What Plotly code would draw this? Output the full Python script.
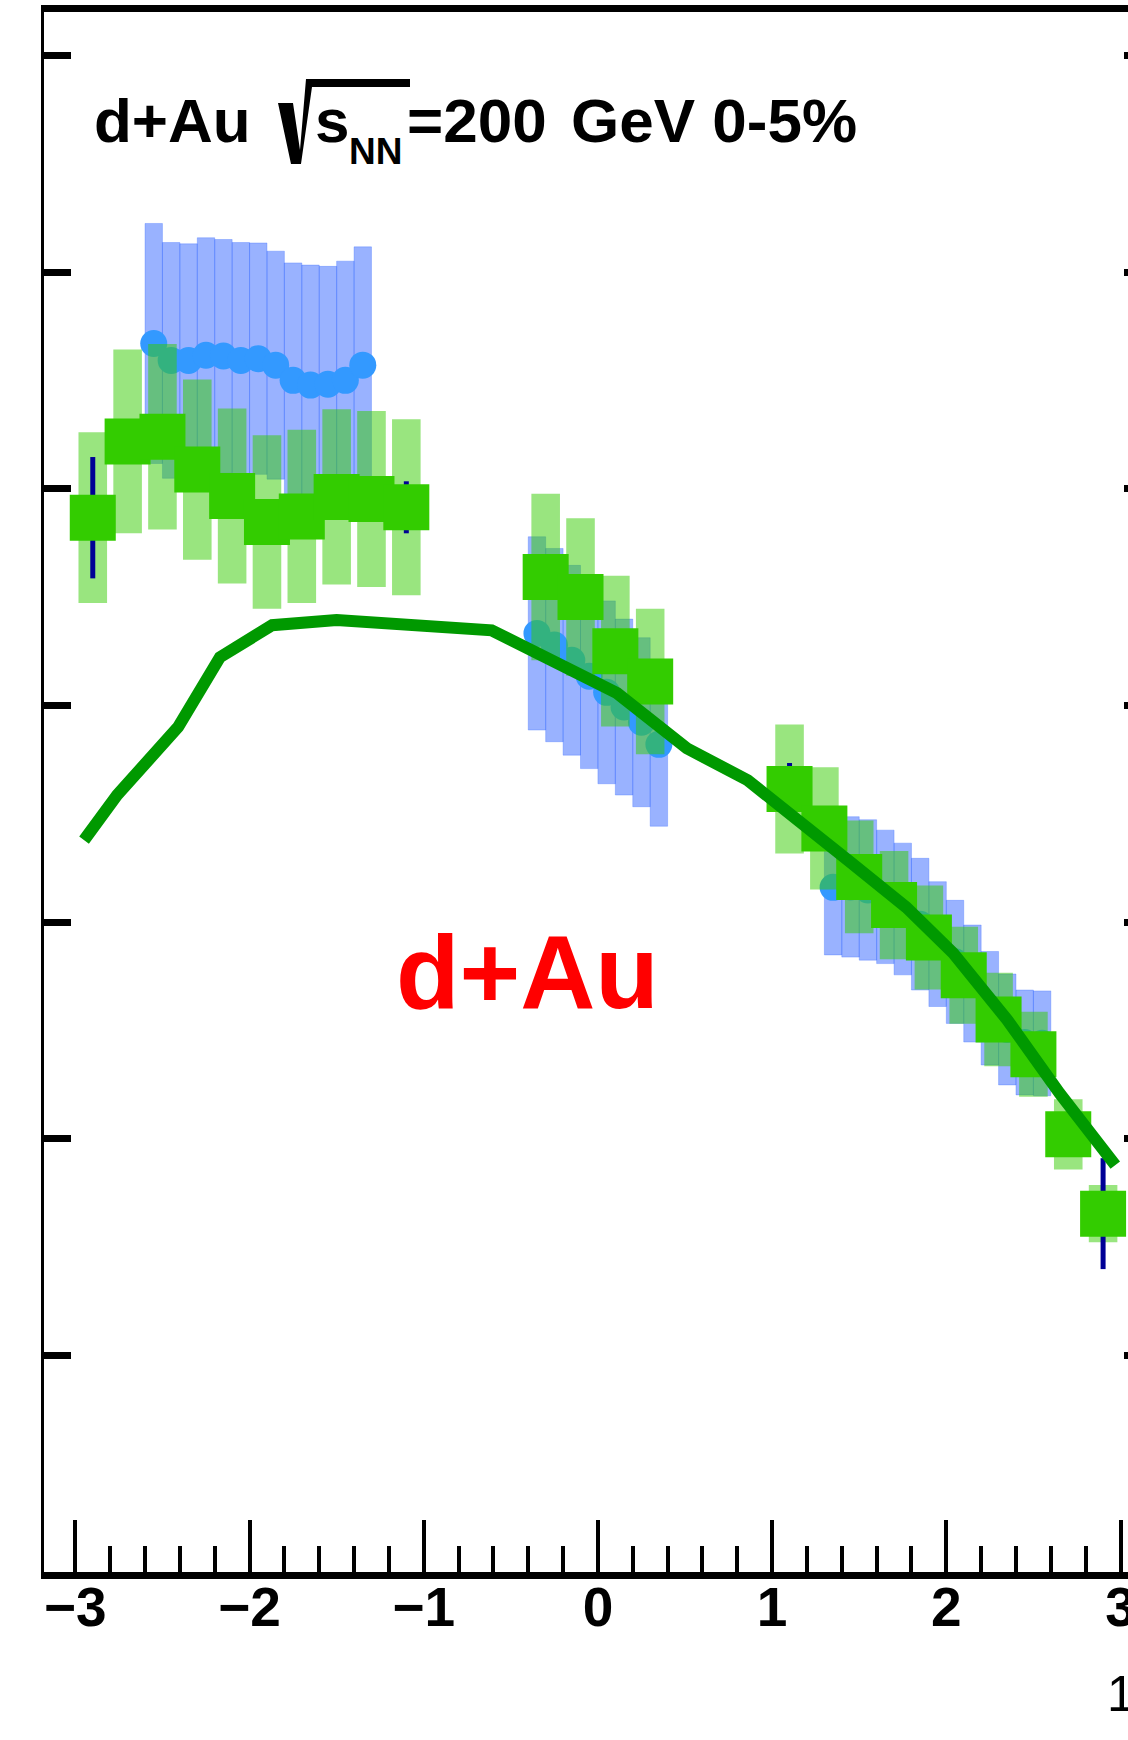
import plotly.graph_objects as go

# ---------------- data ----------------
# green solid squares (with stat + sys uncertainties)
eta_green = [-2.9, -2.7, -2.5, -2.3, -2.1, -1.9, -1.7, -1.5, -1.3, -1.1,
             -0.3, -0.1, 0.1, 0.3,
             1.1, 1.3, 1.5, 1.7, 1.9, 2.1, 2.3, 2.5, 2.7, 2.9]
val_green = [24.33, 26.09, 26.2, 25.44, 24.83, 24.23, 24.36, 24.81, 24.76, 24.57,
             22.96, 22.5, 21.25, 20.55,
             18.07, 17.16, 16.04, 15.39, 14.64, 13.77, 12.75, 11.95, 10.1, 8.27]
stat_green = [1.4, 0.4, 0.4, 0.4, 0.4, 0.4, 0.4, 0.4, 0.4, 0.6,
              0.4, 0.4, 0.4, 0.4,
              0.6, 0.4, 0.4, 0.4, 0.4, 0.4, 0.4, 0.4, 0.4, 1.28]
sys_green = [1.97, 2.12, 2.14, 2.08, 2.02, 2.0, 2.0, 2.02, 2.03, 2.03,
             1.92, 1.82, 1.74, 1.68,
             1.49, 1.41, 1.3, 1.25, 1.2, 1.12, 1.08, 0.98, 0.81, 0.66]

# blue circles (with sys uncertainties)
eta_blue = [-2.55, -2.45, -2.35, -2.25, -2.15, -2.05, -1.95, -1.85, -1.75, -1.65, -1.55, -1.45, -1.35,
            -0.35, -0.25, -0.15, -0.05, 0.05, 0.15, 0.25, 0.35,
            1.35, 1.45, 1.55, 1.65, 1.75, 1.85, 1.95, 2.05, 2.15, 2.25, 2.35, 2.45, 2.55]
val_blue = [28.35, 27.96, 27.96, 28.08, 28.06, 27.96, 28.0, 27.85, 27.5, 27.39, 27.41, 27.5, 27.85,
            21.66, 21.39, 21.04, 20.67, 20.3, 19.96, 19.61, 19.1,
            15.8, 15.81, 15.74, 15.58, 15.3, 14.95, 14.49, 14.08, 13.58, 13.01, 12.52, 12.22, 12.2]
sys_blue = [2.77, 2.72, 2.69, 2.71, 2.69, 2.72, 2.67, 2.63, 2.71, 2.77, 2.72, 2.75, 2.73,
            2.23, 2.23, 2.19, 2.13, 2.11, 2.03, 1.95, 1.89,
            1.56, 1.62, 1.62, 1.54, 1.52, 1.52, 1.44, 1.42, 1.35, 1.31, 1.28, 1.21, 1.21]

# model curve
eta_model = [-2.95, -2.76, -2.41, -2.17, -1.87, -1.5, -0.61, 0.11, 0.51, 0.86,
             1.45, 1.77, 2.04, 2.35, 2.65, 2.97]
val_model = [16.89, 17.93, 19.5, 21.11, 21.85, 21.97, 21.73, 20.28, 19.01, 18.27,
             16.38, 15.34, 14.28, 12.74, 11.05, 9.39]

x_ticks = [-3, -2, -1, 0, 1, 2, 3]
x_ticktext = ["\u22123", "\u22122", "\u22121", "0", "1", "2", "3"]

# ---------------- layout geometry ----------------
W, H = 1128, 1740
ML, MR, MT, MB = 44, 0, 12, 168
PW, PH = W - ML - MR, H - MT - MB
FONT = "Liberation Sans"


def pxp(x):
    return (x - ML) / PW


def pyp(y):
    return (H - MB - y) / PH


def boxes(xs, ys, errs, hw):
    X, Y = [], []
    for x, y, e in zip(xs, ys, errs):
        X += [x - hw, x + hw, x + hw, x - hw, x - hw, None]
        Y += [y - e, y - e, y + e, y + e, y - e, None]
    return X, Y


def vbars(xs, ys, errs):
    X, Y = [], []
    for x, y, e in zip(xs, ys, errs):
        X += [x, x, None]
        Y += [y - e, y + e, None]
    return X, Y


fig = go.Figure()

bx, by = boxes(eta_blue, val_blue, sys_blue, 0.05)
fig.add_trace(go.Scatter(x=bx, y=by, mode="lines", fill="toself",
                         fillcolor="rgba(51,102,255,0.5)",
                         line=dict(width=1, color="rgba(51,102,255,0.3)"),
                         hoverinfo="skip", showlegend=False))
fig.add_trace(go.Scatter(x=eta_blue, y=val_blue, mode="markers",
                         marker=dict(symbol="circle", size=27, color="rgb(51,153,255)",
                                     line=dict(width=0)),
                         showlegend=False))
gx, gy = boxes(eta_green, val_green, sys_green, 0.082)
fig.add_trace(go.Scatter(x=gx, y=gy, mode="lines", fill="toself",
                         fillcolor="rgba(51,204,0,0.5)", line=dict(width=0),
                         hoverinfo="skip", showlegend=False))
sx, sy = vbars(eta_green, val_green, stat_green)
fig.add_trace(go.Scatter(x=sx, y=sy, mode="lines",
                         line=dict(color="rgb(0,0,150)", width=5),
                         hoverinfo="skip", showlegend=False))
fig.add_trace(go.Scatter(x=eta_green, y=val_green, mode="markers",
                         marker=dict(symbol="square", size=46, color="rgb(51,204,0)",
                                     line=dict(width=0)),
                         showlegend=False))
fig.add_trace(go.Scatter(x=eta_model, y=val_model, mode="lines",
                         line=dict(color="rgb(0,153,0)", width=12),
                         showlegend=False))
fig.add_trace(go.Scatter(x=[], y=[], yaxis="y2", showlegend=False))

fig.update_layout(
    width=W, height=H,
    margin=dict(l=ML, r=MR, t=MT, b=MB, pad=0, autoexpand=False),
    paper_bgcolor="white", plot_bgcolor="white",
    font=dict(family=FONT, color="black"),
    xaxis=dict(range=[-3.18, 3.043], showgrid=False, zeroline=False,
               automargin=False,
               showline=True, linewidth=7, linecolor="black", mirror=True,
               ticks="inside", ticklen=52, tickwidth=4, tickcolor="black",
               tickmode="array", tickvals=x_ticks, ticktext=x_ticktext,
               ticklabeloverflow="allow", ticklabelstandoff=-19,
               tickfont=dict(family=FONT, size=55, color="black", weight="bold"),
               minor=dict(dtick=0.2, tick0=0, ticks="inside", ticklen=26,
                          tickwidth=4, tickcolor="black", showgrid=False)),
    yaxis=dict(range=[0, 36], showgrid=False, zeroline=False, automargin=False,
               showline=True, linewidth=3, linecolor="black",
               ticks="inside", ticklen=27, tickwidth=7, tickcolor="black",
               dtick=5, tick0=0, showticklabels=False),
    yaxis2=dict(range=[0, 36], overlaying="y", side="right", showgrid=False,
                automargin=False,
                zeroline=False, showline=False, ticks="inside", ticklen=4,
                tickwidth=7, tickcolor="black", dtick=5, tick0=0,
                showticklabels=False),
)

ann = []


def txt(s, x, ytop, size, color="black", bold=True, anchor="left"):
    ann.append(dict(text=s, x=pxp(x), y=pyp(ytop), xref="paper", yref="paper",
                    xanchor=anchor, yanchor="top", showarrow=False,
                    font=dict(family=FONT, size=size, color=color,
                              weight="bold" if bold else "normal")))


txt("d+Au", 92, 84, 62)
txt("s", 313, 84, 62)
txt("NN", 347, 129, 37)
txt("=200", 405, 84, 62)
txt("GeV 0-5%", 569, 84, 62)
txt("d+Au", 394, 912, 104, color="rgb(255,0,0)")
txt("1", 1137, 1664, 50, bold=False, anchor="right")
fig.update_layout(annotations=ann)

# radical sign of sqrt(s_NN)
pts = [(278, 103), (293, 103), (300, 150), (306, 79), (410, 79), (410, 87),
       (312, 87), (301, 164), (291, 164)]
path = "M " + " L ".join(f"{pxp(a):.5f},{pyp(b):.5f}" for a, b in pts) + " Z"
fig.add_shape(type="path", path=path, xref="paper", yref="paper",
              fillcolor="black", line=dict(width=0))

fig.write_html("out.html")
